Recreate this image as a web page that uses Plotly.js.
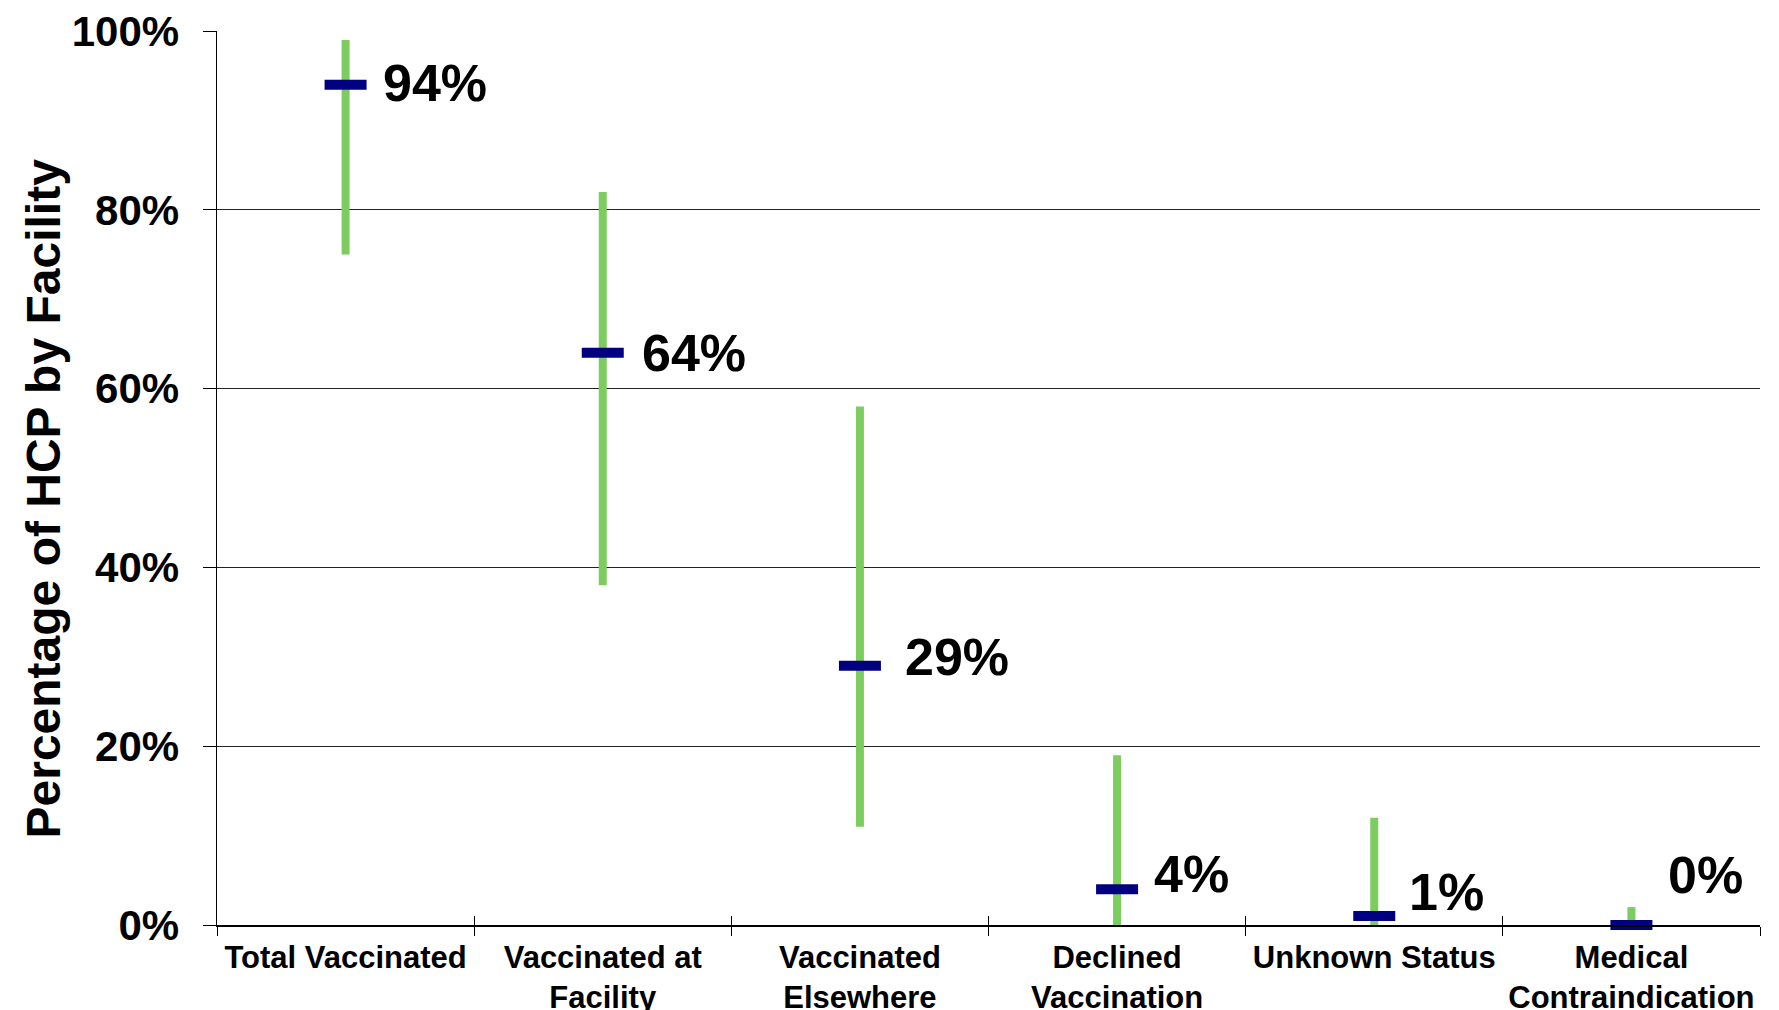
<!DOCTYPE html>
<html>
<head>
<meta charset="utf-8">
<script src="https://cdn.plot.ly/plotly-3.0.1.min.js"></script>
<style>
  html, body { margin: 0; padding: 0; background: #ffffff; }
  #chart { width: 1779px; height: 1010px; }
</style>
</head>
<body>
<div id="chart"></div>
<script>
// ---- data ----
const categories = ['Total Vaccinated', 'Vaccinated at<br>Facility', 'Vaccinated<br>Elsewhere',
                    'Declined<br>Vaccination', 'Unknown Status', 'Medical<br>Contraindication'];
const medianPct = [94, 64, 29, 4, 1, 0];
const lowPct    = [75, 38, 11, 0, 0, 0];
const highPct   = [99, 82, 58, 19, 12, 2];
const valueLabels = ['94%', '64%', '29%', '4%', '1%', '0%'];
const yTickVals = [0, 20, 40, 60, 80, 100];
const yTickText = ['0%', '20%', '40%', '60%', '80%', '100%'];
const yTitle = 'Percentage of HCP by Facility';

// ---- label placement (style, not data) ----
const labelDx = [35, 37, 43, 35, 33, 35];
const labelDy = [2, 0, 9, 15, 24, 50];

const FONT = 'Liberation Sans, Arial, Helvetica, sans-serif';

const trace = {
  type: 'scatter',
  mode: 'markers',
  x: categories,
  y: medianPct,
  cliponaxis: false,
  marker: {
    symbol: 'line-ew',
    size: 30,
    color: '#000080',
    line: { color: '#000080', width: 10 }
  },
  error_y: {
    type: 'data',
    symmetric: false,
    array: highPct.map((h, i) => h - medianPct[i]),
    arrayminus: lowPct.map((l, i) => medianPct[i] - l),
    color: '#7DCC60',
    thickness: 8,
    width: 0
  },
  hoverinfo: 'skip',
  showlegend: false
};

const annotations = categories.map((c, i) => ({
  x: c, y: medianPct[i], xref: 'x', yref: 'y',
  text: valueLabels[i],
  showarrow: false,
  xanchor: 'left', yanchor: 'middle',
  xshift: labelDx[i], yshift: labelDy[i],
  font: { family: FONT, size: 52, color: '#000000', weight: 700 }
}));

annotations.push({
  xref: 'paper', yref: 'paper',
  x: (43 - 217) / 1543, y: (925 - 498.5) / 894,
  text: yTitle, textangle: -90,
  showarrow: false, xanchor: 'center', yanchor: 'middle',
  font: { family: FONT, size: 48, color: '#000000', weight: 700 }
});

const layout = {
  width: 1779, height: 1010,
  margin: { l: 217, r: 19, t: 31, b: 85, pad: 0 },
  paper_bgcolor: '#ffffff',
  plot_bgcolor: '#ffffff',
  showlegend: false,
  font: { family: FONT, color: '#000000' },
  xaxis: {
    type: 'category',
    categoryorder: 'array',
    categoryarray: categories,
    range: [-0.5, 5.5],
    showline: true, linecolor: '#000000', linewidth: 1.5,
    showgrid: false, zeroline: false,
    ticks: 'outside', ticklen: 9, tickwidth: 1, tickcolor: '#000000',
    tickson: 'boundaries',
    ticklabelstandoff: 4,
    tickfont: { family: FONT, size: 31, color: '#000000', weight: 700 },
    fixedrange: true
  },
  xaxis2: {
    type: 'category',
    overlaying: 'x',
    categoryorder: 'array',
    categoryarray: categories,
    range: [-0.5, 5.5],
    showline: false, showgrid: false, zeroline: false,
    ticks: 'inside', ticklen: 9, tickwidth: 1, tickcolor: '#000000',
    tickson: 'boundaries',
    showticklabels: false,
    fixedrange: true
  },
  yaxis: {
    range: [0, 100],
    tickvals: yTickVals,
    ticktext: yTickText,
    showline: true, linecolor: '#000000', linewidth: 1.5,
    showgrid: true, gridcolor: '#222222', gridwidth: 1.3,
    zeroline: false,
    ticks: 'outside', ticklen: 13, tickwidth: 1, tickcolor: '#000000',
    ticklabelstandoff: 15,
    tickfont: { family: FONT, size: 42, color: '#000000', weight: 700 },
    fixedrange: true
  },
  annotations: annotations
};

const trace2 = { type: 'scatter', mode: 'markers', x: categories, y: medianPct, xaxis: 'x2',
  marker: { opacity: 0 }, hoverinfo: 'skip', showlegend: false };

Plotly.newPlot('chart', [trace2, trace], layout, { staticPlot: true, displayModeBar: false });
</script>
</body>
</html>
